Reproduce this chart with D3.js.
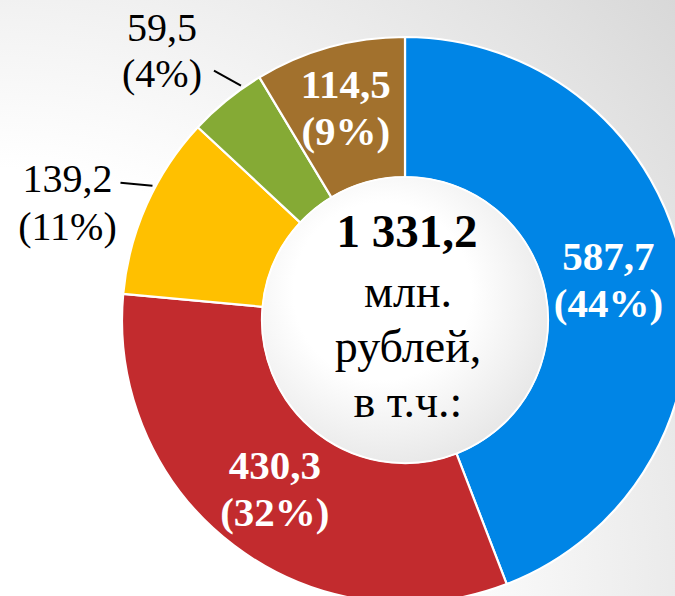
<!DOCTYPE html>
<html>
<head>
<meta charset="utf-8">
<script src="https://cdn.jsdelivr.net/npm/d3@7"></script>
<style>
  html, body { margin: 0; padding: 0; background: #fff; }
  svg { display: block; }
</style>
</head>
<body>
<div id="chart"></div>
<script>
// budget structure, mln rubles
var values = [587.7, 430.3, 139.2, 59.5, 114.5];
var percents = [44, 32, 11, 4, 9];
var colors = ["#0085e6", "#c22b2e", "#ffc000", "#85aa35", "#a2712d"];
var centerLines = ["млн.", "рублей,", "в т.ч.:"];

(function(){
  var width = 675, height = 596;
  var cx = 405, cy = 320;
  var outerR = 283, innerR = 143;
  var serif = "'Liberation Serif', serif";

  var ru = d3.formatLocale({decimal: ",", thousands: " ", grouping: [3], currency: ["", ""]});
  var fmt = ru.format(",.1f");

  var svg = d3.select("#chart").append("svg")
    .attr("width", width)
    .attr("height", height);

  var defs = svg.append("defs");

  // page background, white lower-left fading to grey upper-right
  var bg = defs.append("radialGradient")
    .attr("id", "bg")
    .attr("gradientUnits", "userSpaceOnUse")
    .attr("cx", 0).attr("cy", height).attr("r", 950);
  bg.append("stop").attr("offset", 0.45).attr("stop-color", "#ffffff");
  bg.append("stop").attr("offset", 1).attr("stop-color", "#d4d4d4");

  var hole = defs.append("radialGradient")
    .attr("id", "hole")
    .attr("cx", 0.42).attr("cy", 0.4).attr("r", 0.62);
  hole.append("stop").attr("offset", 0.5).attr("stop-color", "#ffffff");
  hole.append("stop").attr("offset", 1).attr("stop-color", "#e8e8e8");

  svg.append("rect")
    .attr("width", width).attr("height", height)
    .attr("fill", "url(#bg)");

  var g = svg.append("g").attr("transform", "translate(" + cx + "," + cy + ")");

  var pie = d3.pie().sort(null).value(function(d){ return d; });
  var arcs = pie(values);

  var arc = d3.arc().innerRadius(innerR).outerRadius(outerR);

  g.selectAll(".slice")
    .data(arcs)
    .enter()
    .append("path")
    .attr("class", "slice")
    .attr("d", arc)
    .attr("fill", function(d, i){ return colors[i]; })
    .attr("stroke", "#ffffff")
    .attr("stroke-width", 2.2)
    .attr("stroke-linejoin", "round");

  // centre disc
  g.append("circle")
    .attr("r", innerR)
    .attr("fill", "url(#hole)")
    .attr("stroke", "#ffffff")
    .attr("stroke-width", 1.5);

  function addText(x, y, str, size, bold, fill){
    return g.append("text")
      .attr("x", x).attr("y", y)
      .attr("text-anchor", "middle")
      .attr("fill", fill)
      .style("font-family", serif)
      .style("font-size", size + "px")
      .style("font-weight", bold ? "bold" : "normal")
      .text(str);
  }

  addText(2, -73, fmt(d3.sum(values)), 47, true, "#000");
  centerLines.forEach(function(t, i){
    addText(3, -13 + i * 55, t, 46, false, "#000");
  });

  // label settings per slice: inside labels use a radius, outside ones a leader angle
  var labelRadius = [208, 214, null, null, 218];
  var leaderAngle = [null, null, 298, 325, null];
  var leaderShift = [null, null, [-32, -3], [-27, -15], null];
  var textShift = [null, null, [-53, 9], [-52, -30], null];
  var textGap = [null, null, 48, 46, null];

  function polar(a, r){
    var rad = a * Math.PI / 180;
    return [r * Math.sin(rad), -r * Math.cos(rad)];
  }

  arcs.forEach(function(d, i){
    var line1 = fmt(d.data);
    var line2 = "(" + percents[i] + "%)";
    if (labelRadius[i] != null){
      var c = d3.arc().innerRadius(labelRadius[i]).outerRadius(labelRadius[i]).centroid(d);
      addText(c[0] - 1, c[1] - 12, line1, 41, true, "#fff");
      addText(c[0] - 1, c[1] + 35, line2, 41, true, "#fff");
    } else {
      var s = polar(leaderAngle[i], outerR + 3);
      var e = [s[0] + leaderShift[i][0], s[1] + leaderShift[i][1]];
      g.append("line")
        .attr("x1", s[0]).attr("y1", s[1])
        .attr("x2", e[0]).attr("y2", e[1])
        .attr("stroke", "#000")
        .attr("stroke-width", 2);
      var tx = e[0] + textShift[i][0], ty = e[1] + textShift[i][1];
      addText(tx, ty, line1, 40, false, "#000");
      addText(tx, ty + textGap[i], line2, 40, false, "#000");
    }
  });
})();
</script>
</body>
</html>
